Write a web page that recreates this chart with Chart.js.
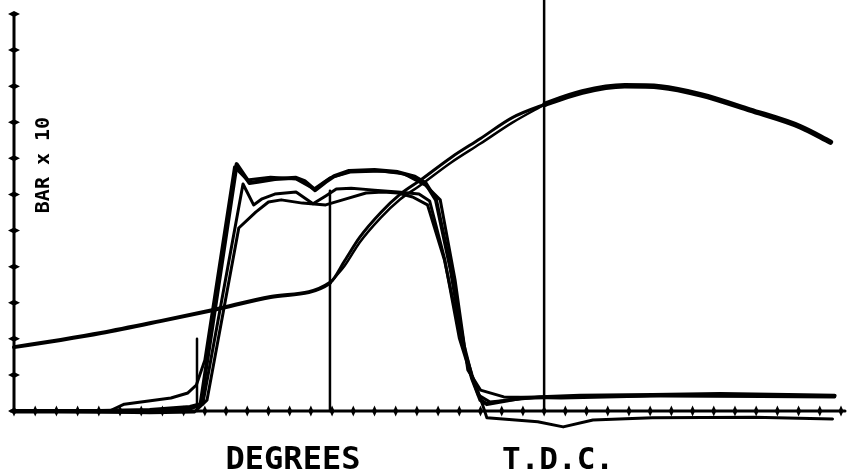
<!DOCTYPE html>
<html>
<head>
<meta charset="utf-8">
<script src="https://cdn.jsdelivr.net/npm/chart.js@4.4.1/dist/chart.umd.min.js"></script>
<style>
  html, body { margin: 0; padding: 0; background: #fff; }
  #wrap { position: relative; width: 851px; height: 473px; overflow: hidden; }
  .lbl { position: absolute; font-family: "DejaVu Sans Mono", monospace; font-weight: bold; color: #000; white-space: nowrap; text-align: center; }
  #xlbl { left: 193px; top: 442px; width: 200px; font-size: 32px; line-height: 32px; }
  #tdc { left: 458px; top: 442px; width: 200px; font-size: 31px; line-height: 32px; }
  #ylbl { left: -18px; top: 155px; width: 120px; font-size: 20px; line-height: 20px; transform: rotate(-90deg); }
</style>
</head>
<body>
<div id="wrap">
  <canvas id="trace" width="851" height="473"></canvas>
  <div class="lbl" id="ylbl">BAR x 10</div>
  <div class="lbl" id="xlbl">DEGREES</div>
  <div class="lbl" id="tdc">T.D.C.</div>
</div>
<script>
// crank angle in degrees relative to T.D.C., pressure in bar x 10
const xTicks = [-250, -240, -230, -220, -210, -200, -190, -180, -170, -160,
                -150, -140, -130, -120, -110, -100, -90, -80, -70, -60,
                -50, -40, -30, -20, -10, 0, 10, 20, 30, 40,
                50, 60, 70, 80, 90, 100, 110, 120, 130, 140];
const yTicks = [0, 1, 2, 3, 4, 5, 6, 7, 8, 9, 10, 11];

// compression / expansion curve
const motorDeg = [-250, -228, -209, -181, -156, -129, -101, -94, -87, -77, -68, -58.5, -44, -30, -15, 0.5, 18, 38, 55, 74, 97, 121, 135];
const motorBar = [1.77, 1.97, 2.16, 2.49, 2.80, 3.16, 3.55, 4.17, 4.81, 5.50, 6.00, 6.39, 7.02, 7.55, 8.13, 8.50, 8.84, 9.01, 8.98, 8.76, 8.34, 7.87, 7.45];
// second pass over the compression stroke
const motor2Deg = [-101, -94, -87, -77, -68, -58.5, -44, -30, -15, 0.5];
const motor2Bar = [3.55, 4.03, 4.67, 5.36, 5.86, 6.25, 6.88, 7.41, 7.99, 8.50];

// injection pressure traces
const inj1Deg = [-250, -210, -186, -167, -162, -145, -139, -135, -127, -117, -113, -108, -103, -99, -92, -80, -69, -61, -56, -51, -44, -38, -34, -30, -27, -11, 17, 51, 83, 115, 137];
const inj1Bar = [0, 0, 0.03, 0.11, 0.19, 6.84, 6.32, 6.35, 6.43, 6.46, 6.37, 6.12, 6.35, 6.51, 6.65, 6.68, 6.62, 6.49, 6.32, 5.85, 3.91, 1.83, 0.91, 0.30, 0.19, 0.36, 0.42, 0.44, 0.47, 0.44, 0.42];

const inj2Deg = [-250, -190, -167, -161, -142, -137, -133, -127, -117, -109, -103, -98, -91, -80, -69, -59, -54, -47, -40, -35, -31, -25.5, -2, 50, 137];
const inj2Bar = [-0.03, -0.03, 0.05, 0.19, 6.29, 5.71, 5.88, 6.01, 6.07, 5.74, 5.96, 6.15, 6.17, 6.12, 6.07, 6.01, 5.82, 4.23, 2.02, 1.08, 0.44, 0.25, 0.39, 0.42, 0.39];

const inj3Deg = [-250, -209, -186, -165, -159, -144, -136, -130, -124, -114, -103, -95, -84, -76, -69, -62, -55, -47, -39, -34, -29, -27, -3, 9, 23, 51, 99, 136];
const inj3Bar = [0, -0.03, -0.05, -0.03, 0.30, 5.07, 5.51, 5.79, 5.85, 5.76, 5.71, 5.85, 6.04, 6.07, 6.04, 5.93, 5.71, 4.18, 1.97, 1.0, 0.17, -0.19, -0.30, -0.44, -0.25, -0.19, -0.17, -0.22];

const inj4Deg = [-250, -205, -198, -176, -168, -164, -160, -146, -140, -129, -117, -108.5, -101, -91.5, -77, -66, -56, -49, -42, -36, -30, -19, 8, 55, 137];
const inj4Bar = [0, 0, 0.19, 0.36, 0.50, 0.72, 1.41, 6.76, 6.40, 6.48, 6.43, 6.15, 6.46, 6.62, 6.65, 6.57, 6.26, 5.85, 3.63, 1.14, 0.58, 0.39, 0.36, 0.42, 0.42];

// vertical markers: T.D.C., the mark at -101 and the short one near the rise
const markDeg = [0, -101, -163.7];
const markTop = [11.4, 6.1, 2.0];

function pts(xs, ys) {
  return xs.map((x, i) => ({ x: x, y: ys[i] }));
}

function line(data, width) {
  return {
    data: data,
    borderColor: '#000',
    borderWidth: width,
    pointRadius: 0,
    fill: false,
    tension: 0,
    clip: false,
    borderJoinStyle: 'round',
    borderCapStyle: 'round'
  };
}

const datasets = [
  Object.assign(line(pts(motorDeg, motorBar), 4), {
    cubicInterpolationMode: 'monotone',
    segment: { borderWidth: ctx => ctx.p0.parsed.x >= 0 ? 5.5 : (ctx.p0.parsed.x >= -101 ? 3 : 4) }
  }),
  Object.assign(line(pts(motor2Deg, motor2Bar), 2.5), { cubicInterpolationMode: 'monotone' }),
  line(pts(inj1Deg, inj1Bar), 4),
  line(pts(inj2Deg, inj2Bar), 3),
  line(pts(inj3Deg, inj3Bar), 3),
  line(pts(inj4Deg, inj4Bar), 3)
];
markDeg.forEach((d, i) => {
  datasets.push(line([{ x: d, y: 0 }, { x: d, y: markTop[i] }], 2.5));
});

// hand-drawn style axes with diamond ticks crossing the line
const plotterAxes = {
  id: 'plotterAxes',
  beforeDatasetsDraw(chart) {
    const c = chart.ctx;
    const xs = chart.scales.x, ys = chart.scales.y;
    const x0 = xs.getPixelForValue(xTicks[0]);
    const x1 = xs.getPixelForValue(xTicks[xTicks.length - 1]);
    const y0 = ys.getPixelForValue(yTicks[0]);
    const y1 = ys.getPixelForValue(yTicks[yTicks.length - 1]);
    c.save();
    c.strokeStyle = '#000';
    c.fillStyle = '#000';
    c.lineWidth = 3;
    c.lineCap = 'round';
    c.beginPath();
    c.moveTo(x0, y1);
    c.lineTo(x0, y0);
    c.moveTo(x0 - 3, y0);
    c.lineTo(x1 + 4, y0);
    c.stroke();
    xTicks.forEach(t => {
      const p = xs.getPixelForValue(t);
      c.beginPath();
      c.moveTo(p, y0 - 5.5);
      c.lineTo(p + 2.5, y0);
      c.lineTo(p, y0 + 5.5);
      c.lineTo(p - 2.5, y0);
      c.closePath();
      c.fill();
    });
    yTicks.forEach(t => {
      const p = ys.getPixelForValue(t);
      c.beginPath();
      c.moveTo(x0 - 6, p);
      c.lineTo(x0, p - 3);
      c.lineTo(x0 + 6, p);
      c.lineTo(x0, p + 3);
      c.closePath();
      c.fill();
    });
    c.restore();
  }
};

new Chart(document.getElementById('trace'), {
  type: 'line',
  data: { datasets: datasets },
  options: {
    responsive: false,
    animation: false,
    layout: { padding: { left: 14, right: 10, top: 14, bottom: 62 } },
    plugins: { legend: { display: false }, tooltip: { enabled: false } },
    scales: {
      x: { type: 'linear', min: -250, max: 140, display: false },
      y: { type: 'linear', min: 0, max: 11, display: false }
    }
  },
  plugins: [plotterAxes]
});
</script>
</body>
</html>
